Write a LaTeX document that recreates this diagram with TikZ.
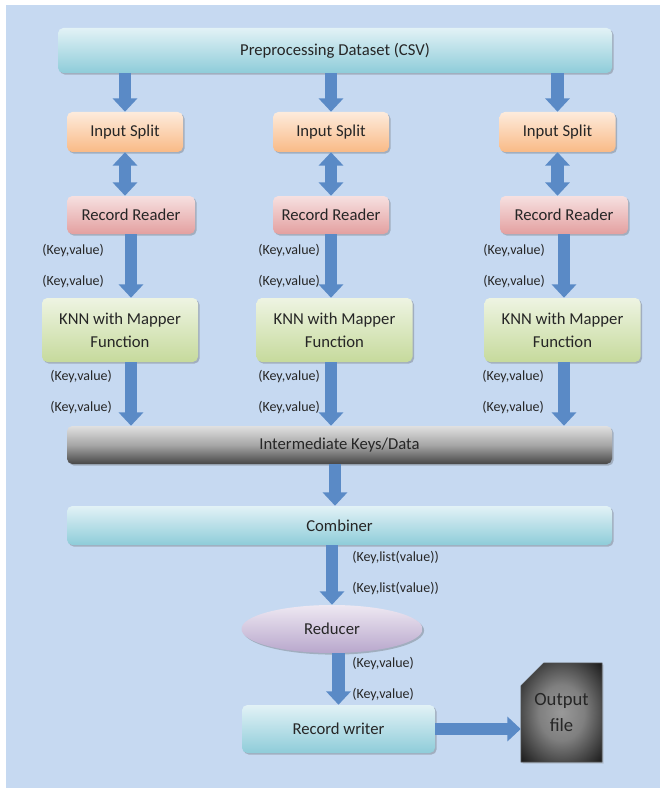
\documentclass[tikz,border=0pt]{standalone}
\usepackage{fontspec}
\setmainfont{Carlito}
\usetikzlibrary{arrows.meta,positioning,shadows,shapes.misc,shapes.geometric}

\definecolor{bgblue}{HTML}{C6D9F1}
\definecolor{arrowblue}{HTML}{5A8AC6}
\definecolor{tealtop}{HTML}{E2F2F6}
\definecolor{tealbot}{HTML}{8ECCD9}
\definecolor{splittop}{HTML}{FDEBDC}
\definecolor{splitbot}{HTML}{F9BA86}
\definecolor{readtop}{HTML}{F6E0E0}
\definecolor{readbot}{HTML}{E3A0A0}
\definecolor{knntop}{HTML}{EEF4E2}
\definecolor{knnbot}{HTML}{C6DA9C}
\definecolor{redtop}{HTML}{EEE8F2}
\definecolor{redbot}{HTML}{B8A7CC}

% bevelled look of the output file
\pgfdeclareradialshading{filebevel}{\pgfpoint{0bp}{0bp}}{%
  color(0bp)=(black!40); color(14bp)=(black!50); color(30bp)=(black!80);
  color(38bp)=(black!95); color(50bp)=(black)}

\begin{document}
\begin{tikzpicture}[
    x=0.75pt, y=-0.75pt,
    boxnode/.style={rounded corners=4pt, inner sep=0pt, align=center, text=black!85,
        font=\fontsize{12.5}{17}\selectfont,
        drop shadow={shadow xshift=1.2pt, shadow yshift=-1.2pt, opacity=0.3, fill=black!70}},
    tealbox/.style={boxnode, top color=tealtop, bottom color=tealbot},
    splitbox/.style={boxnode, top color=splittop, bottom color=splitbot, minimum width=87pt, minimum height=30pt},
    readbox/.style={boxnode, top color=readtop, bottom color=readbot, minimum height=28.5pt},
    knnbox/.style={boxnode, top color=knntop, bottom color=knnbot, minimum width=117pt, minimum height=48pt},
    kvnode/.style={font=\fontsize{10.5}{12}\selectfont, text=black!85, anchor=west, inner sep=0pt},
    bigarrow/.style={draw=arrowblue, line width=9.5pt, -{Triangle[width=18pt,length=10pt]}},
    dblarrow/.style={draw=arrowblue, line width=9.5pt, {Triangle[width=18pt,length=10pt]}-{Triangle[width=18pt,length=10pt]}}
]
% Background
\fill[white] (0,0) rectangle (660,788);
\fill[bgblue] (6,5) rectangle (660,788);

% Top bar
\node[tealbox, minimum width=415.5pt, minimum height=33.75pt] (pre) at (335,50.5) {Preprocessing Dataset (CSV)};

% Input splits
\node[splitbox] (split1) at (125,132) {Input Split};
\node[splitbox] (split2) at (331,132) {Input Split};
\node[splitbox] (split3) at (557.5,132) {Input Split};

% Record readers
\node[readbox, minimum width=96pt] (reader1) at (131,215) {Record Reader};
\node[readbox, minimum width=87pt] (reader2) at (331,215) {Record Reader};
\node[readbox, minimum width=96pt] (reader3) at (564,215) {Record Reader};

% Mappers
\node[knnbox] (knn1) at (120,330) {KNN with Mapper\\Function};
\node[knnbox] (knn2) at (334.5,330) {KNN with Mapper\\Function};
\node[knnbox] (knn3) at (562.5,330) {KNN with Mapper\\Function};

% Intermediate and combiner
\node[boxnode, top color=black!12, bottom color=black!72, middle color=black!35,
      minimum width=408.75pt, minimum height=28.5pt] (inter) at (339.5,445) {Intermediate Keys/Data};
\node[tealbox, minimum width=408.75pt, minimum height=29.25pt] (comb) at (339.5,525.5) {Combiner};

% Reducer, writer, output
\node[boxnode, ellipse, top color=redtop, bottom color=redbot,
      minimum width=135.75pt, minimum height=36pt] (red) at (332,629) {Reducer};
\node[tealbox, minimum width=144.75pt, minimum height=36pt] (writer) at (338.5,729) {Record writer};
\node[chamfered rectangle, chamfered rectangle corners=north west,
      chamfered rectangle xsep=8pt, chamfered rectangle ysep=9pt,
      inner sep=0pt, minimum width=60.75pt, minimum height=74.25pt,
      shading=filebevel, draw=black!70, line width=0.4pt,
      drop shadow={shadow xshift=1.2pt, shadow yshift=-1.2pt, opacity=0.3},
      align=center, text=black!85, font=\fontsize{14}{20}\selectfont] (out) at (561.5,712.5) {Output\\file};

% Arrows between stages
\foreach \i in {1,2,3} {
    \draw[bigarrow] (split\i.north |- pre.south) -- (split\i.north);
    \draw[dblarrow] (split\i.south) -- (reader\i.north -| split\i);
    \draw[bigarrow] (reader\i.south) -- (knn\i.north -| reader\i);
    \draw[bigarrow] (knn\i.south -| reader\i) -- (inter.north -| reader\i);
}
\draw[bigarrow] (inter.south -| pre) -- (comb.north -| pre);
\draw[bigarrow] (red.north |- comb.south) -- (red.north);
\draw[bigarrow] (red.south -| writer) -- (writer.north);
\draw[bigarrow] (writer.east) -- (writer.east -| out.west);

% Key/value labels
\foreach \n/\x/\y in {a/42/251, b/42/282, c/258/251, d/258/282, e/483/251, f/483/282,
                      g/50/377, h/50/408, i/258/377, j/258/408, k/482/377, l/482/408,
                      m/352/663, n/352/694} {
    \node[kvnode] (kv\n) at (\x,\y) {(Key,value)};
}
\node[kvnode] (kl1) at (352,558) {(Key,list(value))};
\node[kvnode] (kl2) at (352,589) {(Key,list(value))};

\end{tikzpicture}
\end{document}
